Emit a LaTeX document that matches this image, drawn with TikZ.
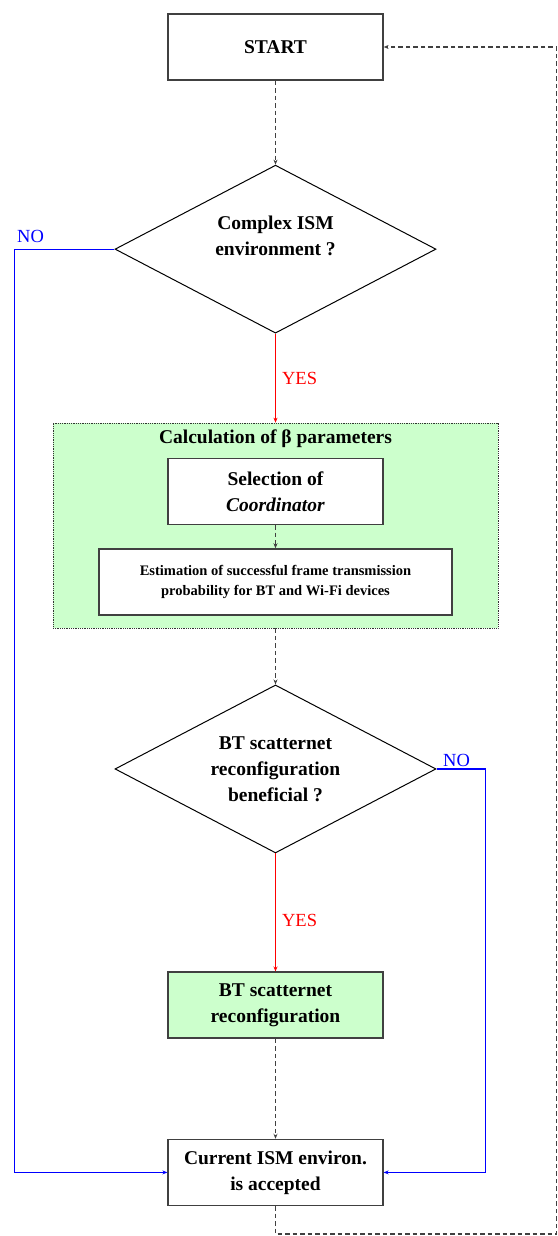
\documentclass[tikz,border=0pt]{standalone}
\usepackage{fontspec}
\setmainfont{Liberation Serif}
\usetikzlibrary{shapes.geometric,arrows.meta,positioning}
\definecolor{fcgreen}{RGB}{204,255,204}
\definecolor{fcgray}{RGB}{64,64,64}
\definecolor{fcblue}{RGB}{0,0,255}
\definecolor{fcred}{RGB}{255,0,0}
\newcommand{\boxfont}{\fontsize{19.5}{26}\selectfont\bfseries}
\newcommand{\smallboxfont}{\fontsize{14.5}{20}\selectfont\bfseries}
\newcommand{\answerfont}{\fontsize{18.5}{22}\selectfont}

\begin{document}
\begin{tikzpicture}[
  x=1pt, y=1pt,
  box/.style={rectangle, draw=fcgray, line width=1.3pt, fill=white, minimum width=215pt, minimum height=66pt, align=center, font=\boxfont},
  widebox/.style={box, minimum width=353pt, font=\smallboxfont},
  decision/.style={diamond, draw=black, line width=1pt, fill=white, aspect=1.9, inner sep=1pt, minimum width=321pt, minimum height=168pt, align=center, font=\boxfont},
  groupbox/.style={rectangle, draw=black!80, densely dotted, line width=0.8pt, fill=fcgreen, minimum width=445pt, minimum height=205pt},
  flowline/.style={-{Stealth[length=5pt,width=4pt]}, line width=1.3pt, fcgray, dash pattern=on 4.5pt off 3pt},
  yesline/.style={-{Stealth[length=5pt,width=4pt]}, line width=1.2pt, fcred},
  noline/.style={-{Stealth[length=5pt,width=4pt]}, line width=1.3pt, fcblue},
  answer/.style={font=\answerfont, inner sep=2pt}
]
\useasboundingbox (-275.5,47) rectangle (281.5,-1189);

% Main column
\node[box] (start) at (0,0) {START};
\node[decision, below=84pt of start] (d1) {\raisebox{7pt}[0pt][0pt]{\begin{tabular}{@{}c@{}}Complex ISM\\environment ?\end{tabular}}};

% Calculation of beta parameters
\node[groupbox, below=89pt of d1] (grp) {};
\node[font=\boxfont, inner sep=0pt, below=7pt of grp.north] (title) {Calculation of β parameters};
\node[box, below=10pt of title] (sel) {Selection of\\\textit{Coordinator}};
\node[widebox, below=23pt of sel] (est) {Estimation of successful frame transmission\\probability for BT and Wi-Fi devices};

\node[decision, below=56pt of grp] (d2) {BT scatternet\\reconfiguration\\beneficial ?};
\node[box, fill=fcgreen, below=118pt of d2] (reconf) {BT scatternet\\reconfiguration};
\node[box, below=100pt of reconf] (final) {Current ISM environ.\\is accepted};
\coordinate[right=173pt of start.east] (back);

% Arrows
\draw[flowline] (start) -- (d1);
\draw[yesline] (d1.south) -- (grp.north) node[answer, midway, right=4pt] {YES};
\draw[flowline] (sel) -- (est);
\draw[flowline] (grp.south) -- (d2.north);
\draw[yesline] (d2.south) -- (reconf.north) node[answer, pos=.57, right=4pt] {YES};
\draw[flowline] (reconf) -- (final);

% NO branches
\draw[noline] (d1.west) -- ++(-100,0) node[answer, above right, yshift=4pt] {NO} |- (final.west);
\draw[noline] (d2.east) node[answer, above right, xshift=4pt] {NO} -- ++(49,0) |- (final.east);

% Feedback loop
\draw[flowline] (final.south) -- ++(0,-28) -| (back) -- (start.east);

\end{tikzpicture}
\end{document}
